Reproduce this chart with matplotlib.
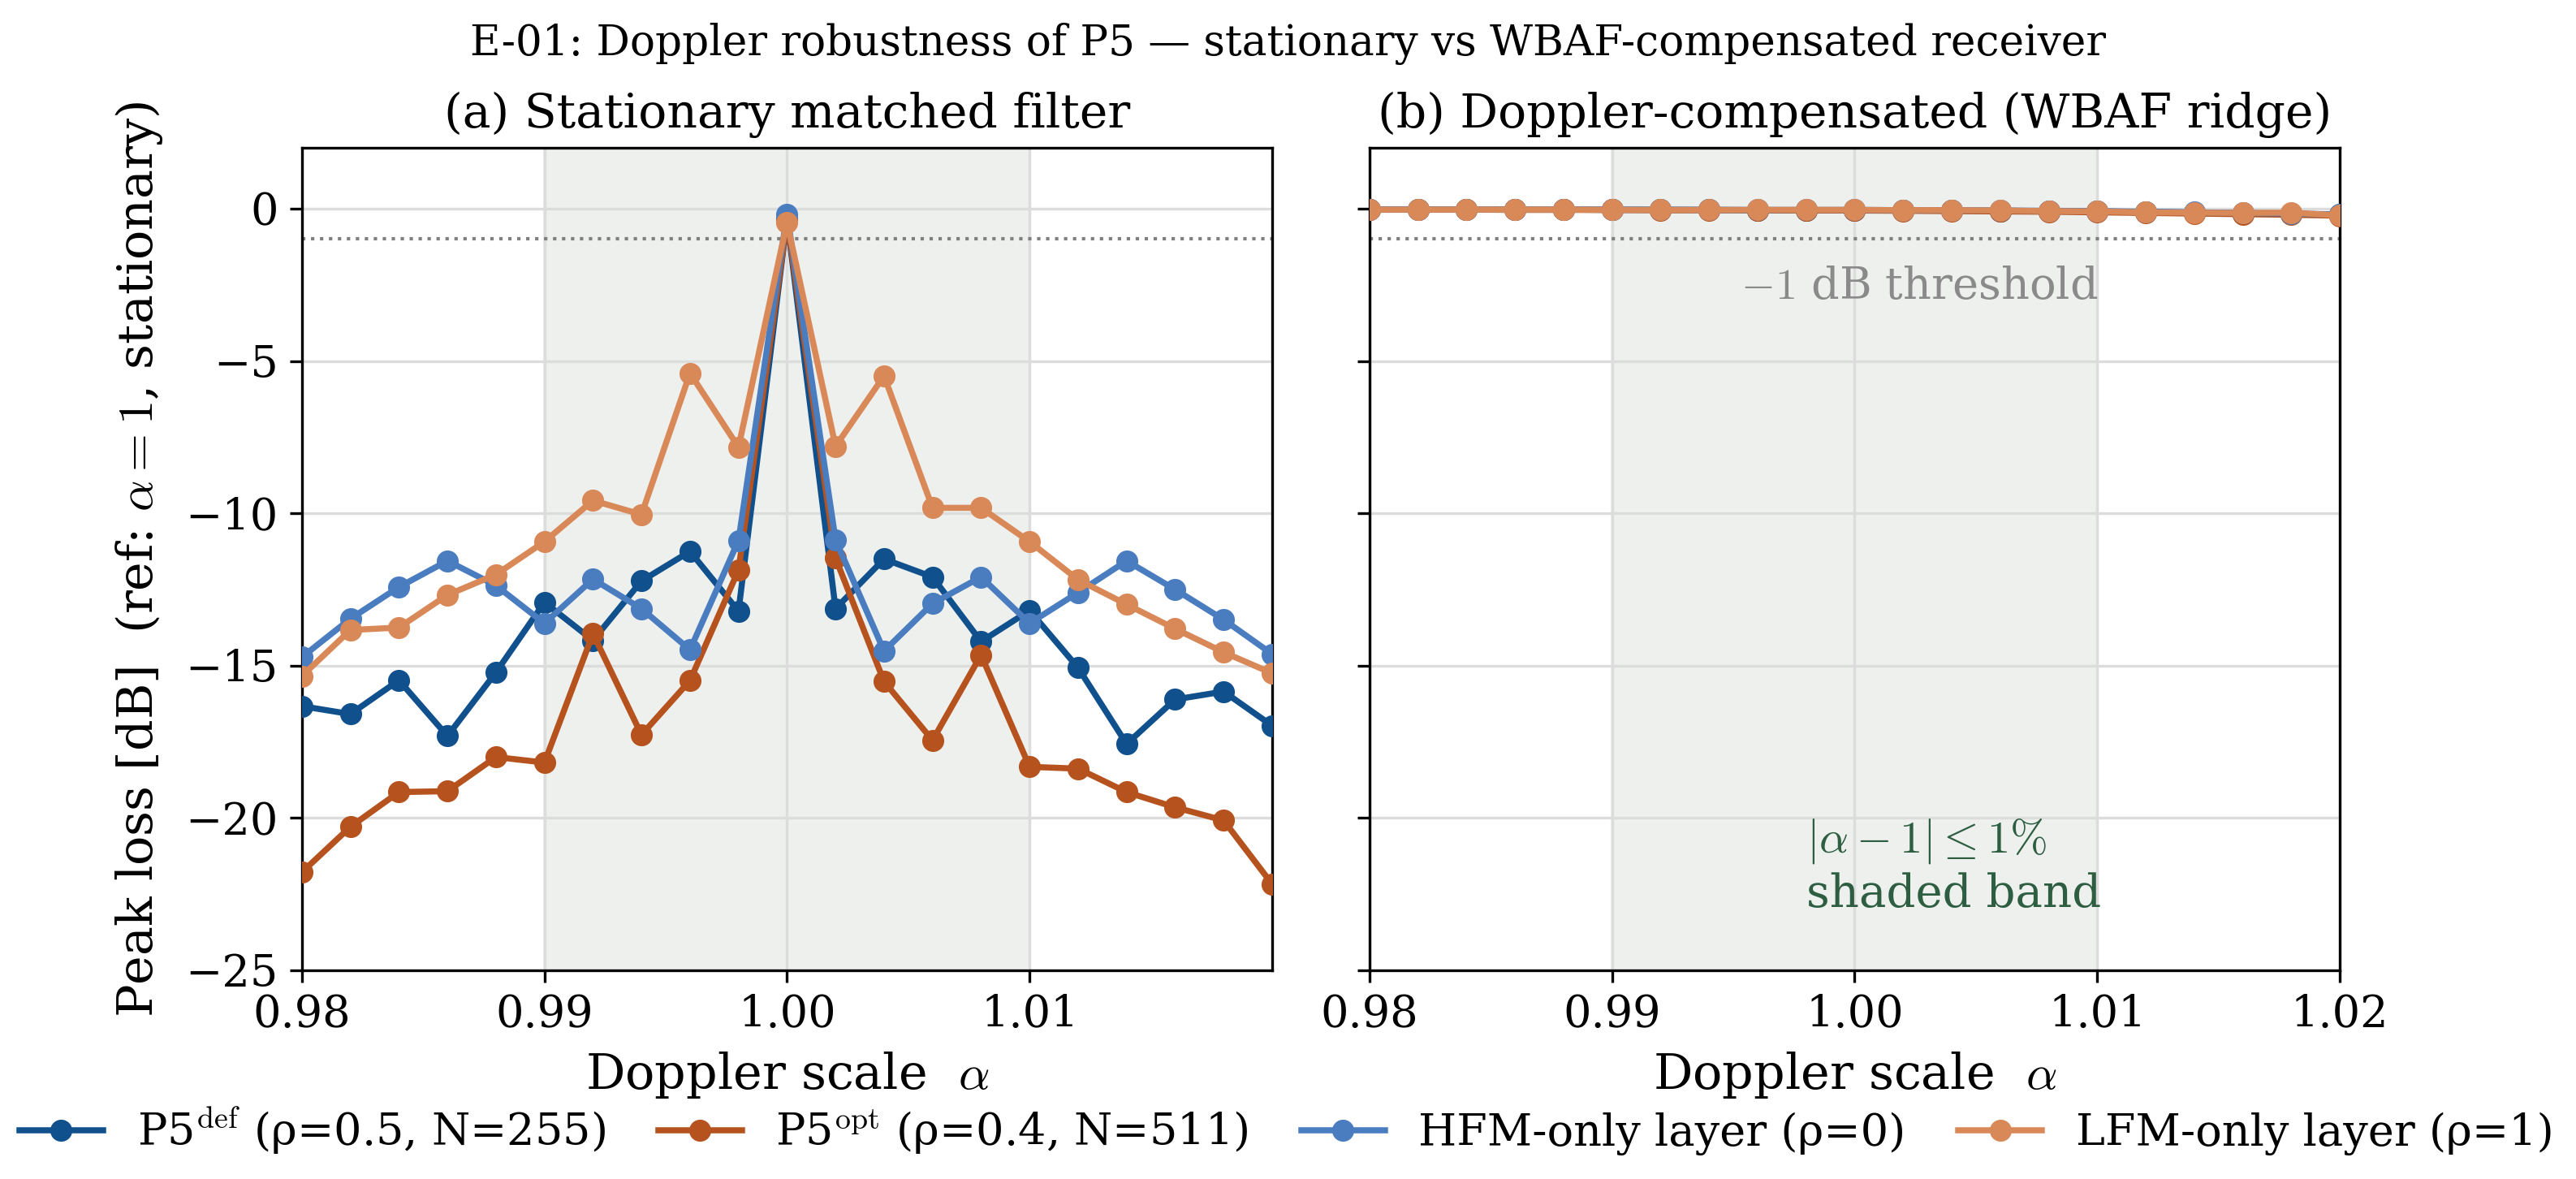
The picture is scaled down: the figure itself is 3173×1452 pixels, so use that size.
import numpy as np
import matplotlib
matplotlib.use("Agg")
import matplotlib.pyplot as plt
from matplotlib.ticker import FormatStrFormatter

plt.rcParams['font.family'] = ['DejaVu Serif']
plt.rcParams['mathtext.fontset'] = 'cm'

# Doppler scale grid
alpha = [0.980, 0.982, 0.984, 0.986, 0.988, 0.990, 0.992, 0.994, 0.996, 0.998, 1.000,
         1.002, 1.004, 1.006, 1.008, 1.010, 1.012, 1.014, 1.016, 1.018, 1.020]

# (a) stationary matched filter, peak loss [dB]
stat_p5def = [-16.33, -16.59, -15.48, -17.31, -15.22, -12.92, -14.17, -12.22, -11.25, -13.21, -0.35,
              -13.13, -11.50, -12.09, -14.21, -13.19, -15.07, -17.57, -16.11, -15.85, -16.97]
stat_p5opt = [-21.78, -20.29, -19.15, -19.12, -18.00, -18.18, -13.95, -17.27, -15.49, -11.86, -0.40,
              -11.47, -15.52, -17.45, -14.65, -18.32, -18.38, -19.15, -19.65, -20.08, -22.17]
stat_hfm = [-14.72, -13.46, -12.42, -11.56, -12.37, -13.61, -12.16, -13.13, -14.48, -10.89, -0.18,
            -10.87, -14.52, -12.96, -12.09, -13.61, -12.60, -11.56, -12.50, -13.49, -14.62]
stat_lfm = [-15.34, -13.83, -13.75, -12.68, -12.01, -10.93, -9.58, -10.04, -5.40, -7.83, -0.45,
            -7.80, -5.49, -9.82, -9.82, -10.93, -12.18, -12.99, -13.79, -14.56, -15.25]

# (b) Doppler-compensated (WBAF ridge), peak loss [dB]
comp_p5def = [-0.02, -0.02, -0.03, -0.03, -0.03, -0.04, -0.04, -0.04, -0.05, -0.05, -0.05,
              -0.06, -0.06, -0.07, -0.08, -0.09, -0.11, -0.13, -0.15, -0.17, -0.20]
comp_p5opt = [-0.03, -0.03, -0.03, -0.04, -0.04, -0.04, -0.05, -0.05, -0.05, -0.06, -0.06,
              -0.07, -0.08, -0.09, -0.10, -0.12, -0.14, -0.16, -0.18, -0.20, -0.23]
comp_hfm = [-0.02, -0.02, -0.02, -0.03, -0.03, -0.03, -0.03, -0.04, -0.04, -0.04, -0.04,
            -0.05, -0.05, -0.06, -0.07, -0.08, -0.10, -0.12, -0.14, -0.16, -0.19]
comp_lfm = [-0.03, -0.03, -0.03, -0.03, -0.03, -0.04, -0.04, -0.04, -0.04, -0.04, -0.04,
            -0.05, -0.05, -0.06, -0.08, -0.09, -0.12, -0.13, -0.14, -0.13, -0.22]

labels = [r'P5$^{\rm def}$ (ρ=0.5, N=255)', r'P5$^{\rm opt}$ (ρ=0.4, N=511)',
          'HFM-only layer (ρ=0)', 'LFM-only layer (ρ=1)']
colors = ['#10508c', '#b5521e', '#4a7cc0', '#d98858']

fig, (ax1, ax2) = plt.subplots(1, 2, sharey=True, figsize=(3173 / 300, 1452 / 300), dpi=300)
fig.subplots_adjust(left=0.1172, right=0.9083, bottom=0.177, top=0.8747, wspace=0.1004)

stat = [stat_p5def, stat_p5opt, stat_hfm, stat_lfm]
comp = [comp_p5def, comp_p5opt, comp_hfm, comp_lfm]

for ax, series in ((ax1, stat), (ax2, comp)):
    ax.axvspan(0.99, 1.01, color='#eef0ee', zorder=0)
    ax.grid(True, color='#dcdcdc', lw=0.8, zorder=1)
    ax.axhline(-1, color='#808080', ls=':', lw=1.0, zorder=2)
    for y, c, lab in zip(series, colors, labels):
        ax.plot(alpha, y, '-o', color=c, lw=1.8, ms=5.5, label=lab, zorder=3)
    ax.set_xlim(alpha[0], alpha[-1])
    ax.set_xlabel(r'Doppler scale  $\alpha$', fontsize=14.5)
    ax.xaxis.set_major_formatter(FormatStrFormatter('%.2f'))
    ax.tick_params(labelsize=13)
    ax.set_axisbelow(True)

ax1.set_xticks([0.98, 0.99, 1.00, 1.01])
ax2.set_xticks([0.98, 0.99, 1.00, 1.01, 1.02])
ax1.set_ylim(-25, 2)
ax1.set_yticks([0, -5, -10, -15, -20, -25])
ax1.set_ylabel(r'Peak loss [dB]  (ref: $\alpha=1$, stationary)', fontsize=14.5, labelpad=6)

ax1.set_title('(a) Stationary matched filter', fontsize=14)
ax2.set_title('(b) Doppler-compensated (WBAF ridge)', fontsize=14)

ax2.text(0.9953, -2.56, r'$-1$ dB threshold', color='#8a8a8a', fontsize=13, ha='left', va='center')
ax2.text(0.998, -21.6, '$|\\alpha-1| \\leq 1\\%$\nshaded band', color='#2e5e42', fontsize=13.5,
         ha='left', va='center')

fig.suptitle('E-01: Doppler robustness of P5 — stationary vs WBAF-compensated receiver',
             fontsize=12.4, y=0.981)

handles, labs = ax1.get_legend_handles_labels()
fig.legend(handles, labs, loc='center', ncol=4, bbox_to_anchor=(0.4995, 0.0407), frameon=False,
           fontsize=13.0, handlelength=1.9, handletextpad=0.77, columnspacing=1.2)

fig.savefig('out.png', dpi=300)
